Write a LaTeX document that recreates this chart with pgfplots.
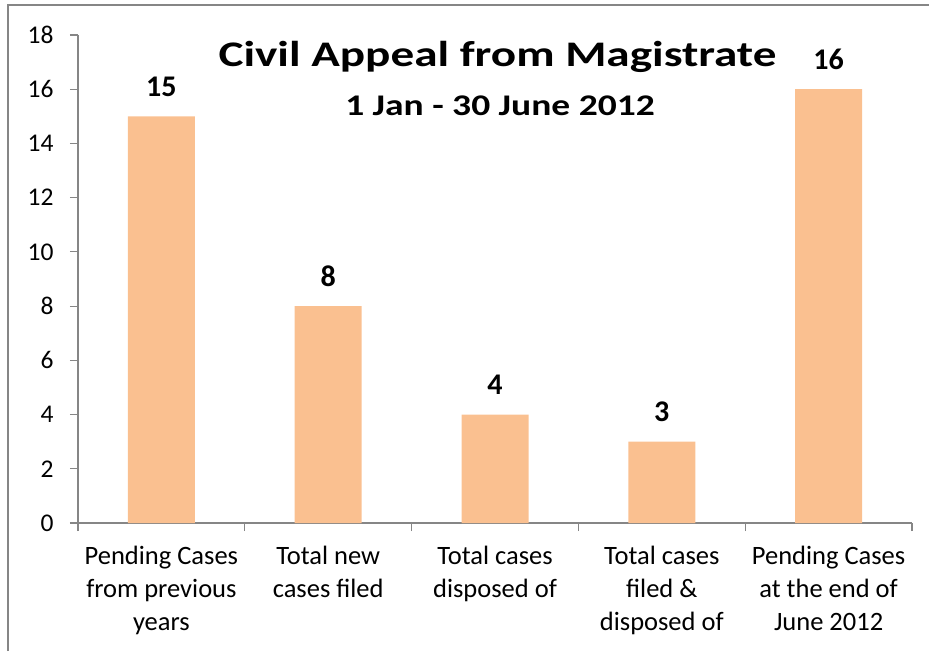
\documentclass[border=0pt]{standalone}
\usepackage{fontspec}
\setmainfont{Carlito}
\usepackage{pgfplots}
\pgfplotsset{compat=1.18}
\definecolor{barc}{RGB}{250,192,144}
\definecolor{framec}{RGB}{134,134,134}
\definecolor{axc}{RGB}{134,134,134}
\begin{document}
\begin{tikzpicture}[x=1pt,y=1pt]
\useasboundingbox (0,0) rectangle (929,651);
\draw[framec, line width=1.8pt] (8,0) -- (8,646) -- (929,646);
\begin{axis}[
  at={(78pt,128pt)}, anchor=south west,
  scale only axis, width=834pt, height=488pt,
  xmin=-0.5, xmax=4.5, ymin=0, ymax=18,
  axis x line*=bottom, axis y line*=left,
  axis line style={-, axc, line width=1.2pt},
  ytick={0,2,...,18},
  xtick={0,...,4},
  xticklabels={{Pending Cases\\from previous\\years},{Total new\\cases filed},{Total cases\\disposed of},{Total cases\\filed \&\\disposed of},{Pending Cases\\at the end of\\June 2012}},
  minor xtick={-0.5,0.5,...,4.5},
  tick align=outside,
  major tick length=8pt, minor tick length=8pt,
  major x tick style={draw=none},
  ytick style={axc, line width=1.2pt},
  minor x tick style={axc, line width=1.2pt},
  /pgf/number format/assume math mode=true,
  yticklabel style={font=\fontsize{25.5}{30}\selectfont, xshift=-13pt},
  xticklabel style={align=center, font=\fontsize{26.5}{33}\selectfont, yshift=-12pt},
  ybar, bar width=67pt,
  nodes near coords,
  every node near coord/.append style={font=\bfseries\fontsize{30}{36}\selectfont, anchor=base, yshift=20pt, black},
  clip=false,
]
\addplot[fill=barc, draw=none] coordinates {(0,15) (1,8) (2,4) (3,3) (4,16)};
\end{axis}
\node[anchor=base, inner sep=0pt] at (497.5,584.3) {\scalebox{1.31}[1]{\bfseries\fontsize{36}{43}\selectfont Civil Appeal from Magistrate}};
\node[anchor=base, inner sep=0pt] at (500,535) {\scalebox{1.25}[1]{\bfseries\fontsize{30}{36}\selectfont 1 Jan - 30 June 2012}};
\end{tikzpicture}
\end{document}
